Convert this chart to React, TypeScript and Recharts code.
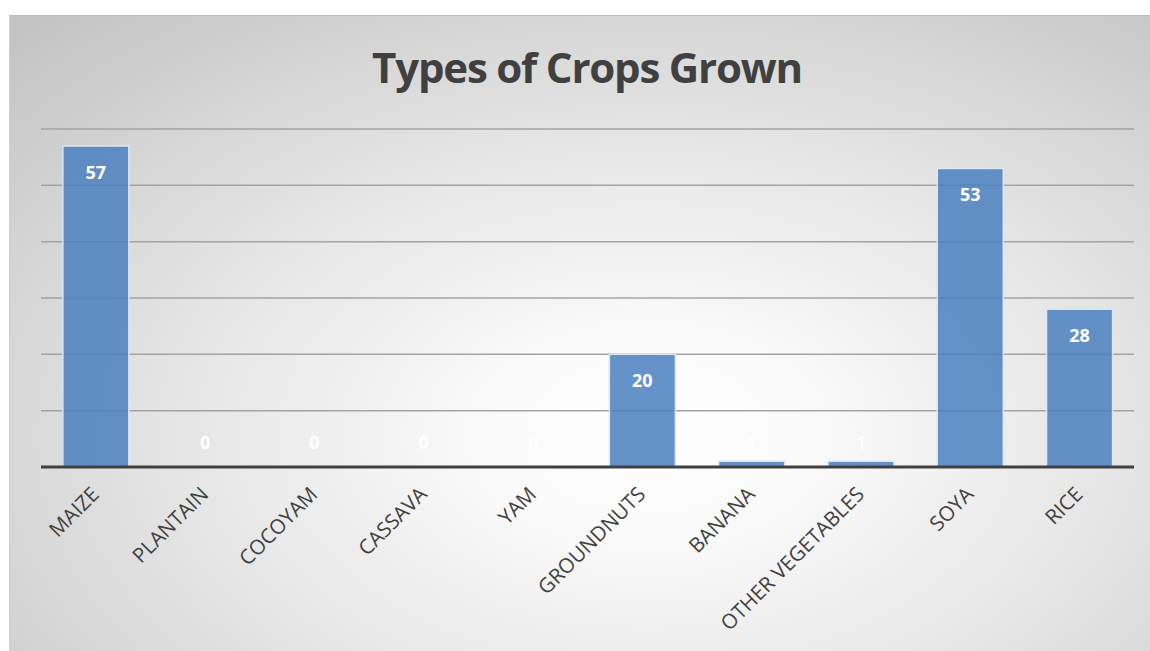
import React from "react";
import { BarChart, Bar, XAxis, YAxis, CartesianGrid, LabelList, Rectangle } from "recharts";

const crops = [
  "MAIZE",
  "PLANTAIN",
  "COCOYAM",
  "CASSAVA",
  "YAM",
  "GROUNDNUTS",
  "BANANA",
  "OTHER VEGETABLES",
  "SOYA",
  "RICE",
];
const counts = [57, 0, 0, 0, 0, 20, 1, 1, 53, 28];
const yTicks = [0, 10, 20, 30, 40, 50, 60];

const data = crops.map((crop, i) => ({ crop, count: counts[i] }));

const TEXT = "#404040";
const FONT = "'Open Sans', 'Noto Sans', sans-serif";

const CategoryTick = (props: any) => {
  const { x, y, payload } = props;
  const ax = x - 1;
  const ay = y + 15;
  return (
    <text
      x={ax}
      y={ay}
      transform={`rotate(-45 ${ax} ${ay})`}
      textAnchor="end"
      dominantBaseline="central"
      fill={TEXT}
      fontSize={20.5}
      fontFamily={FONT}
    >
      {payload.value}
    </text>
  );
};

// Zero-valued bars keep a sliver of height so their labels still render, but draw no rectangle.
const BarShape = (props: any) => {
  if (!props.payload || props.payload.count === 0) return <g />;
  return <Rectangle {...props} />;
};

// Values sit inside the top of tall bars; short bars get them just above the axis.
const ValueLabel = (props: any) => {
  const { x, y, width, height, value } = props;
  const cx = x + width / 2;
  const cy = height > 40 ? y + 26 : y + height - 25;
  return (
    <text
      x={cx}
      y={cy}
      textAnchor="middle"
      dominantBaseline="central"
      fill="#ffffff"
      fontSize={18}
      fontWeight={700}
      fontFamily={FONT}
    >
      {value}
    </text>
  );
};

export default function App() {
  return (
    <div
      style={{
        position: "fixed",
        left: 0,
        top: 0,
        width: 1150,
        height: 651,
        overflow: "hidden",
        background: "#ffffff",
      }}
    >
      <div
        style={{
          position: "absolute",
          left: 9,
          top: 15,
          width: 1141,
          height: 636,
          boxSizing: "border-box",
          borderTop: "1.5px solid #bdbdbd",
          borderLeft: "1px solid #d0d0d0",
          background:
            "radial-gradient(ellipse 78% 88% at 56% 66%, #ffffff 0%, #fafafa 18%, #e4e4e4 55%, #c4c4c4 100%)",
        }}
      >
        <div
          style={{
            position: "absolute",
            left: 0,
            width: 1154,
            top: 19,
            textAlign: "center",
            fontFamily: FONT,
            fontWeight: 700,
            fontSize: 42,
            letterSpacing: -1.2,
            color: TEXT,
            lineHeight: "64px",
          }}
        >
          Types of Crops Grown
        </div>
        <BarChart
          width={1141}
          height={636}
          data={data}
          margin={{ top: 113, right: 17, bottom: 15, left: 31 }}
          barCategoryGap="20%"
          style={{ position: "absolute", left: 0, top: 0 }}
        >
          <CartesianGrid vertical={false} stroke="#a3a3a3" strokeWidth={1.5} />
          <YAxis hide domain={[0, 60]} ticks={yTicks} width={0} />
          <XAxis
            dataKey="crop"
            interval={0}
            height={170}
            tickLine={false}
            axisLine={{ stroke: "#404040", strokeWidth: 3 }}
            tick={<CategoryTick />}
          />
          <Bar
            dataKey="count"
            fill="#4a7fc0"
            fillOpacity={0.85}
            stroke="#dbe6f3"
            strokeWidth={1.5}
            minPointSize={1}
            shape={<BarShape />}
            isAnimationActive={false}
          >
            <LabelList dataKey="count" content={<ValueLabel />} />
          </Bar>
        </BarChart>
      </div>
    </div>
  );
}
